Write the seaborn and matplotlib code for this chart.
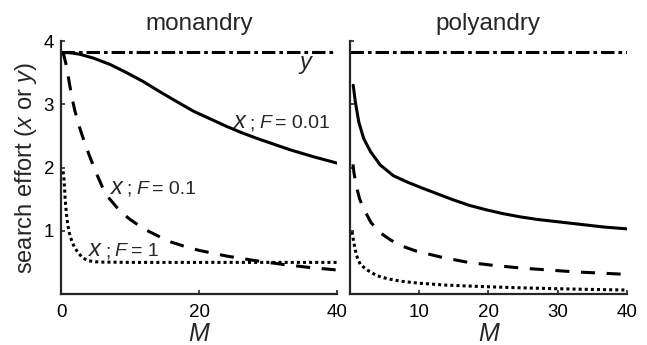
import matplotlib
matplotlib.use("Agg")
import matplotlib.pyplot as plt
from matplotlib.offsetbox import TextArea, HPacker, AnnotationBbox
import seaborn as sns
import pandas as pd


# -------------------------------
# DATA
# -------------------------------
y_level = 3.82
y_M = [0, 40]

# monandry
mono_M_f001 = [0, 1.3, 2.75, 4.7, 7.1, 9.5, 11.9, 14.3, 16.8, 19.2, 21.6,
               24, 26.2, 28.4, 30.8, 33.2, 36.6, 40]
mono_x_f001 = [3.82, 3.815, 3.79, 3.73, 3.63, 3.50, 3.36, 3.20, 3.04, 2.89,
               2.77, 2.65, 2.55, 2.46, 2.37, 2.28, 2.17, 2.07]

mono_M_f01 = [0, 0.4, 0.8, 1.2, 1.6, 2.0, 2.5, 3.0, 3.5, 4.0, 4.5, 5, 6, 7,
              8, 9, 10, 12, 14, 16, 18, 20, 24, 28, 32, 36, 40]
mono_x_f01 = [3.82, 3.78, 3.60, 3.34, 3.10, 2.90, 2.70, 2.53, 2.37, 2.22,
              2.08, 1.94, 1.69, 1.51, 1.38, 1.27, 1.18, 1.03, 0.92, 0.82,
              0.75, 0.69, 0.60, 0.53, 0.47, 0.42, 0.38]

mono_M_f1 = [0.3, 0.45, 0.6, 0.8, 1.0, 1.2, 1.4, 1.7, 2.0, 2.5, 3.0, 3.5,
             4.0, 5, 6, 10, 20, 30, 40]
mono_x_f1 = [1.94, 1.80, 1.50, 1.25, 1.08, 0.97, 0.89, 0.80, 0.73, 0.65,
             0.59, 0.55, 0.525, 0.51, 0.505, 0.50, 0.50, 0.50, 0.50]

# polyandry
poly_M_f001 = [0.5, 0.8, 1.3, 2.0, 3.0, 4.4, 6.3, 8.3, 10.1, 12.5, 14.9,
               17.3, 19.75, 22.15, 24.6, 27, 29.4, 31.8, 34.2, 36.6, 40]
poly_x_f001 = [3.30, 3.04, 2.72, 2.46, 2.25, 2.04, 1.87, 1.77, 1.69, 1.59,
               1.49, 1.40, 1.33, 1.27, 1.22, 1.18, 1.15, 1.12, 1.09, 1.06,
               1.03]

poly_M_f01 = [0.46, 0.6, 1.0, 1.43, 2.0, 3.06, 4.5, 5.95, 7.5, 9.55, 13.3,
              17.1, 20.95, 24.8, 28.6, 32.5, 36.3, 40]
poly_x_f01 = [2.05, 1.92, 1.68, 1.50, 1.35, 1.13, 0.96, 0.85, 0.76, 0.68,
              0.58, 0.50, 0.45, 0.41, 0.38, 0.35, 0.33, 0.31]

poly_M_f1 = [0.32, 0.56, 0.94, 1.5, 2.5, 3.9, 5.5, 7.5, 10.1, 14, 19.75, 25,
             29.4, 35, 40]
poly_x_f1 = [0.985, 0.83, 0.62, 0.47, 0.38, 0.29, 0.24, 0.20, 0.17, 0.14,
             0.115, 0.097, 0.085, 0.072, 0.063]

mono_xticks = [0, 20, 40]
poly_xticks = [10, 20, 30, 40]
yticks = [1, 2, 3, 4]


# -------------------------------
# STYLE
# -------------------------------
sns.set_theme(style="ticks")
plt.rcParams["font.family"] = ["Liberation Sans", "DejaVu Sans"]
plt.rcParams["mathtext.fontset"] = "custom"
plt.rcParams["mathtext.rm"] = "Liberation Sans"
plt.rcParams["mathtext.it"] = "Liberation Sans:italic"

LW = 2.2
SOLID = "-"
DASHED = (0, (4.6, 3.8))
DOTTED = (0, (1.0, 1.0))
DASHDOT = (0, (4.4, 1.3, 1.2, 1.3))
EDGE = "#262626"
FS = 13.5


def draw_line(ax, M, vals, ls):
    df = pd.DataFrame({"M": M, "val": vals})
    sns.lineplot(data=df, x="M", y="val", ax=ax, color="black",
                 linewidth=LW, linestyle=ls, estimator=None)


def style_axes(ax, xticks, show_ylabels):
    ax.set_xlim(0, 40)
    ax.set_ylim(0, 4)
    ax.set_xticks(xticks)
    ax.set_yticks(yticks)
    if not show_ylabels:
        ax.set_yticklabels([])
    for s in ["top", "right"]:
        ax.spines[s].set_visible(False)
    for s in ["left", "bottom"]:
        ax.spines[s].set_linewidth(1.6)
        ax.spines[s].set_color(EDGE)
    ax.tick_params(direction="in", length=3, width=1.2, color=EDGE,
                   labelsize=FS, colors="black")
    ax.tick_params(axis="x", pad=7)
    ax.tick_params(axis="y", pad=5)
    ax.set_xlabel("M", fontsize=18, fontstyle="italic", labelpad=1)
    ax.set_ylabel("")


def curve_label(ax, M, val, value_text):
    # the italic x is drawn a bit larger than the rest, like in the original
    parts = [
        TextArea("x", textprops=dict(fontsize=17, fontstyle="italic")),
        TextArea(";", textprops=dict(fontsize=FS + 0.5)),
        TextArea("F", textprops=dict(fontsize=FS + 0.5, fontstyle="italic")),
        TextArea("= " + value_text, textprops=dict(fontsize=FS + 0.5)),
    ]
    box = HPacker(children=parts, align="baseline", pad=0, sep=3)
    ab = AnnotationBbox(box, (M, val), xycoords="data",
                        box_alignment=(0, 0.5), frameon=False, pad=0)
    ax.add_artist(ab)


# -------------------------------
# PLOT
# -------------------------------
fig = plt.figure(figsize=(6.47, 3.45), dpi=100)
ax1 = fig.add_axes([0.0943, 0.1478, 0.4266, 0.7333])
ax2 = fig.add_axes([0.5406, 0.1478, 0.4283, 0.7333])

# monandry
draw_line(ax1, y_M, [y_level, y_level], DASHDOT)
draw_line(ax1, mono_M_f001, mono_x_f001, SOLID)
draw_line(ax1, mono_M_f01, mono_x_f01, DASHED)
draw_line(ax1, mono_M_f1, mono_x_f1, DOTTED)
style_axes(ax1, mono_xticks, True)
ax1.set_title("monandry", fontsize=17.5, pad=8)
ax1.set_ylabel("search effort ($x$ or $y$)", fontsize=17, labelpad=3)

ax1.text(35.4, 3.66, "y", fontsize=17, fontstyle="italic",
         ha="center", va="center")
curve_label(ax1, 25.0, 2.72, "0.01")
curve_label(ax1, 7.2, 1.69, "0.1")
curve_label(ax1, 4.1, 0.70, "1")

# polyandry
draw_line(ax2, y_M, [y_level, y_level], DASHDOT)
draw_line(ax2, poly_M_f001, poly_x_f001, SOLID)
draw_line(ax2, poly_M_f01, poly_x_f01, DASHED)
draw_line(ax2, poly_M_f1, poly_x_f1, DOTTED)
style_axes(ax2, poly_xticks, False)
ax2.set_title("polyandry", fontsize=17.5, pad=8)

fig.savefig("out.png", dpi=100)
